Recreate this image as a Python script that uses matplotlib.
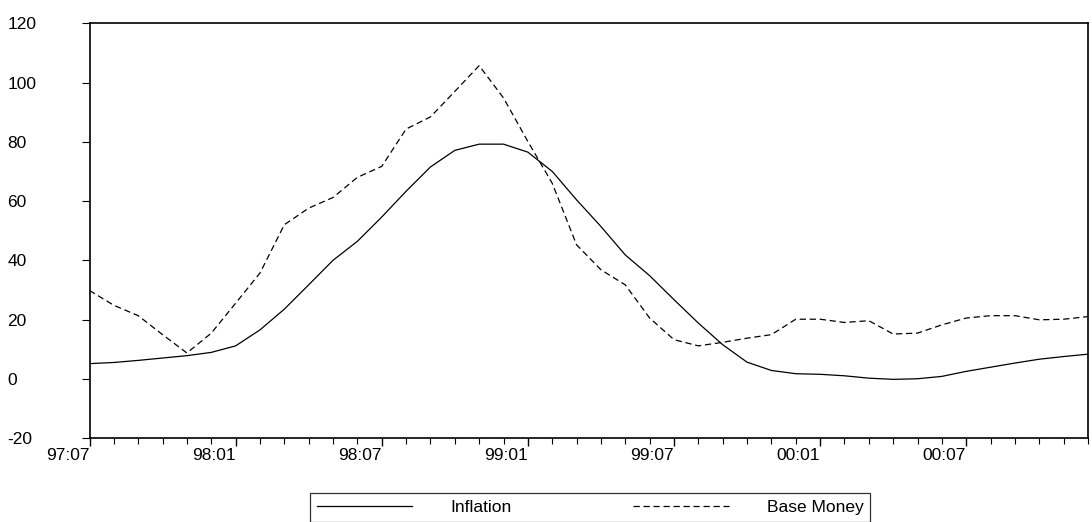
import matplotlib
matplotlib.use("Agg")
import matplotlib.pyplot as plt
from matplotlib.ticker import MultipleLocator

plt.rcParams['font.family'] = ['Liberation Sans', 'DejaVu Sans']
plt.rcParams['axes.unicode_minus'] = False

# monthly, 1997:07 .. 2000:12
inflation = [5.1, 5.5, 6.2, 7.0, 7.8, 8.9, 11.1, 16.5, 23.5, 31.7, 40.0, 46.4,
             54.6, 63.3, 71.5, 77.1, 79.2, 79.2, 76.5, 70.0, 60.4, 51.4, 41.8, 34.8,
             26.7, 18.8, 11.5, 5.6, 2.8, 1.7, 1.5, 1.0, 0.2, -0.2, 0.0, 0.8,
             2.5, 3.9, 5.3, 6.6, 7.5, 8.3]
base_money = [29.8, 24.8, 21.3, 14.9, 8.7, 15.4, 25.5, 35.7, 52.0, 57.6, 61.2, 68.0,
              71.7, 84.3, 88.4, 97.0, 105.7, 94.8, 80.1, 66.0, 45.2, 36.8, 31.7, 20.5,
              13.2, 11.1, 12.3, 13.7, 14.9, 20.1, 20.1, 19.0, 19.6, 15.1, 15.4, 18.2,
              20.5, 21.3, 21.3, 19.9, 20.1, 21.0]
tick_labels = ["97:07", "98:01", "98:07", "99:01", "99:07", "00:01", "00:07"]

months = list(range(len(inflation)))

fig = plt.figure(figsize=(10.92, 5.22), dpi=100)
ax = fig.add_axes([89.5 / 1092, 1 - 438 / 522, (1088 - 89.5) / 1092, (438 - 23.3) / 522])

ax.plot(months, inflation, color='black', linewidth=0.9, label='Inflation')
ax.plot(months, base_money, color='black', linewidth=0.9, linestyle=(0, (5, 3)), label='Base Money')

ax.set_xlim(0, len(months) - 1)
ax.set_ylim(-20, 120)
ax.yaxis.set_major_locator(MultipleLocator(20))
ax.set_xticks(range(0, len(months), 6))
ax.set_xticklabels(tick_labels, fontsize=12.5)
for lab in ax.get_xticklabels():
    lab.set_horizontalalignment('right')
ax.set_xticks(months, minor=True)
ax.tick_params(axis='x', which='major', length=6, width=1, pad=1)
ax.tick_params(axis='x', which='minor', length=4, width=0.8)
ax.tick_params(axis='y', length=6, width=0.8, labelsize=12.5)
for lab in ax.get_yticklabels():
    lab.set_horizontalalignment('left')
ax.yaxis.set_tick_params(pad=53)
for s in ax.spines.values():
    s.set_linewidth(1.2)

fig.legend(loc='lower center', bbox_to_anchor=(590 / 1092, 0.0), ncol=2,
           fontsize=12.5, frameon=True, fancybox=False, edgecolor='black',
           handlelength=5.5, columnspacing=7, borderpad=0.4, handletextpad=2.2,
           borderaxespad=0)
leg = fig.legends[0]
leg.get_frame().set_linewidth(0.9)

fig.savefig("out.png", dpi=100)
